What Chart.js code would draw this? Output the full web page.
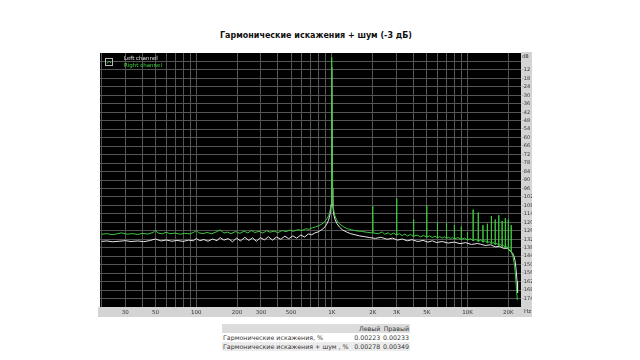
<!DOCTYPE html>
<html>
<head>
<meta charset="utf-8">
<script src="https://cdn.jsdelivr.net/npm/chart.js@4"></script>
<style>
    body { margin: 0; width: 640px; height: 360px; background: #fff; overflow: hidden; position: relative; font-family: "DejaVu Sans", sans-serif; }
    #title { position: absolute; left: 0; top: 31px; width: 632px; text-align: center; font-weight: bold; font-size: 8px; color: #111; }
    #wrap { position: absolute; left: 98px; top: 49px; width: 434px; height: 268px; }
    #stats { position: absolute; left: 222px; top: 324px; width: 188px; border-collapse: collapse; font-size: 6.3px; color: #333; font-family: "DejaVu Sans", sans-serif; }
    #stats td { height: 9px; padding: 0 1px; white-space: nowrap; }
    #stats td.v { text-align: right; }
    #stats tr.h td { background: #dcdcdc; }
    #stats tr.g td { background: #ececec; }
</style>
</head>
<body>
<div id="title">Гармонические искажения + шум (-3 дБ)</div>
<div id="wrap"><canvas id="chart" width="434" height="268"></canvas></div>
<table id="stats">
    <tr class="h"><td></td><td class="v">Левый</td><td class="v">Правый</td></tr>
    <tr><td>Гармонические искажения, %</td><td class="v">0.00223</td><td class="v">0.00233</td></tr>
    <tr class="g"><td>Гармонические искажения + шум , %</td><td class="v">0.00278</td><td class="v">0.00349</td></tr>
</table>
<script>
// Right channel (green) spectrum, Hz / dB
const rightFreq = [20, 22, 24, 26, 28, 31, 34, 37, 40, 44, 48, 50, 52, 56, 60, 64, 70, 76, 82, 90, 96, 100, 104, 112, 120, 130, 140, 150, 160, 170, 180, 195, 210, 225, 240, 255, 270, 290, 310, 330, 350, 375, 400, 430, 460, 490, 520, 560, 600, 640, 680, 720, 760, 800, 840, 880, 920, 950, 970, 985, 993, 997, 1000, 1003, 1007, 1015, 1030, 1050, 1080, 1120, 1170, 1230, 1300, 1400, 1500, 1650, 1800, 1950,
    1990, 2000, 2010, 2200, 2350, 2450, 2600, 2700, 2850, 2990, 3000, 3010, 3150, 3300, 3450, 3600, 3800, 3990, 4000, 4010, 4250, 4500, 4750, 4990, 5000, 5010, 5250, 5500, 5750, 5990, 6000, 6010, 6250, 6500, 6750, 6990, 7000, 7010, 7250, 7500, 7750, 7990, 8000, 8010, 8500, 8990, 9000, 9010, 9500, 9990, 10000, 10010,
    10500, 10990, 11000, 11010, 11500, 11990, 12000, 12010, 12500, 12990, 13000, 13010, 13500, 13990, 14000, 14010, 14500, 14990, 15000, 15010, 15500, 15990, 16000, 16010, 16500, 16990, 17000, 17010, 17500, 17990, 18000, 18010, 18500, 18990, 19000, 19010, 19500, 19990, 20000, 20010, 20500, 20990, 21000, 21010,
    21600, 22200, 22600, 23000, 23300];
const rightDb = [-128.5, -128, -128.8, -128.2, -127.5, -128.4, -128, -128.6, -127.8, -128.3, -127.2, -125.5, -127.5, -128.2, -127, -128.1, -127.6, -128.4, -127.8, -128.2, -127, -125.8, -127.4, -128, -127.2, -128.1, -126.8, -125.4, -127.6, -126.9, -128, -126.5, -127.8, -126.2, -127.5, -125.8, -127.2, -126.4, -127.6, -125.9, -127, -126.2, -127.3, -125.8, -126.6, -125.5, -126.4, -125.2, -125.8, -124.6, -124.9, -123.8, -123.2, -122.4, -121.3, -119.8, -117.5, -115, -112, -107, -98, -85, -3, -85, -98, -106, -111, -115, -118, -120.5, -122, -123.4, -124.5, -125.3, -126, -126.4, -127, -127.4,
    -127.5, -108.5, -127.5, -128, -126.8, -128.4, -127.4, -128.7, -127.6, -129, -103, -129, -128, -129.4, -128.3, -129.7, -128.6, -130, -118, -130, -129, -130.3, -129.2, -130.6, -108, -130.6, -129.6, -130.8, -129.8, -131, -120, -131, -130.1, -131.2, -130.3, -131.4, -120.5, -131.4, -130.5, -131.6, -130.7, -131.8, -122, -131.8, -130.8, -132.2, -123, -132.2, -131.2, -132.6, -127, -132.6,
    -131.6, -133, -111, -133, -132, -133.5, -113, -133.5, -132.5, -134, -122, -134, -133, -134.6, -121, -134.6, -133.6, -135.2, -115.5, -135.2, -134.2, -135.8, -118, -135.8, -134.9, -136.5, -115, -136.5, -135.6, -137.2, -119, -137.2, -136.4, -138, -117, -138, -137.2, -139, -118, -139, -139.6, -141, -122, -141,
    -144, -150, -158, -168, -175];

// Left channel (white) spectrum, Hz / dB
const leftFreq = [20, 22, 24, 27, 30, 33, 37, 41, 45, 50, 55, 60, 66, 72, 80, 88, 95, 100, 106, 114, 122, 132, 142, 150, 160, 172, 185, 198, 212, 228, 244, 260, 278, 296, 318, 340, 365, 390, 420, 450, 480, 515, 550, 590, 630, 670, 710, 750, 790, 830, 870, 910, 945, 970, 985, 994, 1000, 1006, 1015, 1030, 1055, 1090, 1140, 1200, 1280, 1370, 1480, 1600, 1750, 1900, 2100, 2300, 2550, 2800, 3050, 3300, 3600, 3900, 4300, 4700, 5100, 5500, 5900, 6500, 7200, 8000, 8800, 9700, 10700, 11800, 12500, 13500, 14800, 16000, 17200, 18400, 19600, 20600, 21400, 21900, 22400, 22800, 23200, 23400];
const leftDb = [-133.5, -133.2, -133.8, -133.4, -133, -133.6, -133.2, -133.7, -133, -131.8, -133.2, -132.5, -133.4, -132.8, -133.5, -132.6, -133.1, -131.5, -133, -132.2, -133.4, -131.8, -133, -130.8, -132.6, -131.5, -133.8, -131.2, -133.2, -130.6, -132.8, -131, -133.5, -130.8, -132.4, -130.2, -132.6, -130.4, -132, -129.8, -131.6, -129.6, -131.2, -129, -130.4, -128.2, -128.8, -127.5, -126.8, -125.6, -124.2, -121.8, -118.5, -114, -108, -96, -10, -96, -108, -114, -118, -121, -123.5, -125.4, -126.8, -128, -128.8, -129.6, -130.2, -130.8, -131.4, -130.6, -132, -131.2, -132.6, -131.8, -133.1, -132.3, -133.6, -132.8, -134, -133.1, -134.3, -133.6, -134.7, -134, -135.1, -134.4, -135.7, -135, -135.5, -136.4, -135.9, -137.4, -137, -138.4, -138.4, -140.2, -141.5, -143.5, -147, -153, -162, -170, -174];

// Axis ticks and labels
const gridFreqs = [20, 30, 40, 50, 60, 70, 80, 90, 100, 200, 300, 400, 500, 600, 700, 800, 900, 1000, 2000, 3000, 4000, 5000, 6000, 7000, 8000, 9000, 10000, 20000];
const freqLabels = { 30: '30', 50: '50', 100: '100', 200: '200', 300: '300', 500: '500', 1000: '1K', 2000: '2K', 3000: '3K', 5000: '5K', 10000: '10K', 20000: '20K' };
const dbTicks = [-6, -12, -18, -24, -30, -36, -42, -48, -54, -60, -66, -72, -78, -84, -90, -96, -102, -108, -114, -120, -126, -132, -138, -144, -150, -156, -162, -168, -174];
const seriesNames = ['Left channel', 'Right channel'];

const GRID = '#555555';
const STRIP = '#d4d4d4';

const toPoints = (fs, ds) => fs.map((f, i) => ({ x: f, y: ds[i] }));

// black plot area + grey axis strips, legend and Hz label
const frame = {
    id: 'frame',
    beforeDraw(chart) {
        const { ctx, chartArea: a, width, height } = chart;
        ctx.save();
        ctx.fillStyle = STRIP;
        ctx.fillRect(a.right, a.top - 1, width - a.right, height - a.top + 1);
        ctx.fillRect(a.left - 2, a.bottom, width - a.left + 2, height - a.bottom);
        ctx.fillStyle = '#000';
        ctx.fillRect(a.left, a.top, a.right - a.left, a.bottom - a.top);
        ctx.restore();
    },
    afterDraw(chart) {
        const { ctx, chartArea: a } = chart;
        ctx.save();
        // legend icon
        ctx.strokeStyle = '#b8b8b8';
        ctx.lineWidth = 1;
        ctx.strokeRect(a.left + 5.5, a.top + 5.5, 7, 7);
        ctx.strokeStyle = '#3fc83f';
        ctx.beginPath();
        ctx.moveTo(a.left + 7, a.top + 10.5); ctx.lineTo(a.left + 9, a.top + 8); ctx.lineTo(a.left + 11, a.top + 10);
        ctx.stroke();
        ctx.font = '5.5px "DejaVu Sans"';
        ctx.textBaseline = 'middle';
        ctx.fillStyle = '#e8e8e8';
        ctx.fillText(seriesNames[0], a.left + 24, a.top + 6);
        ctx.fillStyle = '#3fd43f';
        ctx.fillText(seriesNames[1], a.left + 24, a.top + 13);
        // unit label
        ctx.fillStyle = '#333';
        ctx.fillText('Hz', a.right + 3, a.bottom + 5);
        ctx.restore();
    }
};

new Chart(document.getElementById('chart'), {
    type: 'line',
    data: {
        datasets: [
            { label: seriesNames[1], data: toPoints(rightFreq, rightDb), borderColor: '#3fc83f', borderWidth: 1, pointRadius: 0, tension: 0 },
            { label: seriesNames[0], data: toPoints(leftFreq, leftDb), borderColor: '#e6e6e6', borderWidth: 1, pointRadius: 0, tension: 0 }
        ]
    },
    options: {
        responsive: false,
        animation: false,
        layout: { padding: { left: 2, top: 3, right: 0, bottom: 0 } },
        plugins: { legend: { display: false }, tooltip: { enabled: false } },
        scales: {
            x: {
                type: 'logarithmic',
                min: 19.5,
                max: 24800,
                afterBuildTicks: s => { s.ticks = gridFreqs.map(v => ({ value: v })); },
                afterFit: s => { s.height = 10; },
                grid: { color: GRID, drawTicks: false },
                border: { display: false },
                ticks: {
                    autoSkip: false, maxRotation: 0, padding: 2,
                    font: { size: 5.5, family: 'DejaVu Sans' }, color: '#333',
                    callback: v => freqLabels[v] || ''
                }
            },
            y: {
                position: 'right',
                min: -180,
                max: 0,
                afterBuildTicks: s => { s.ticks = [{ value: -2.5 }].concat(dbTicks.map(v => ({ value: v }))); },
                afterFit: s => { s.width = 11; },
                grid: { color: c => (c.tick && c.tick.value === -2.5) ? 'rgba(0,0,0,0)' : GRID, drawTicks: false },
                border: { display: false },
                ticks: {
                    autoSkip: false, padding: 1,
                    font: { size: 5, family: 'DejaVu Sans' }, color: '#333',
                    callback: v => v === -2.5 ? 'dB' : (v === -6 ? '' : String(v))
                }
            }
        }
    },
    plugins: [frame]
});
</script>
</body>
</html>
